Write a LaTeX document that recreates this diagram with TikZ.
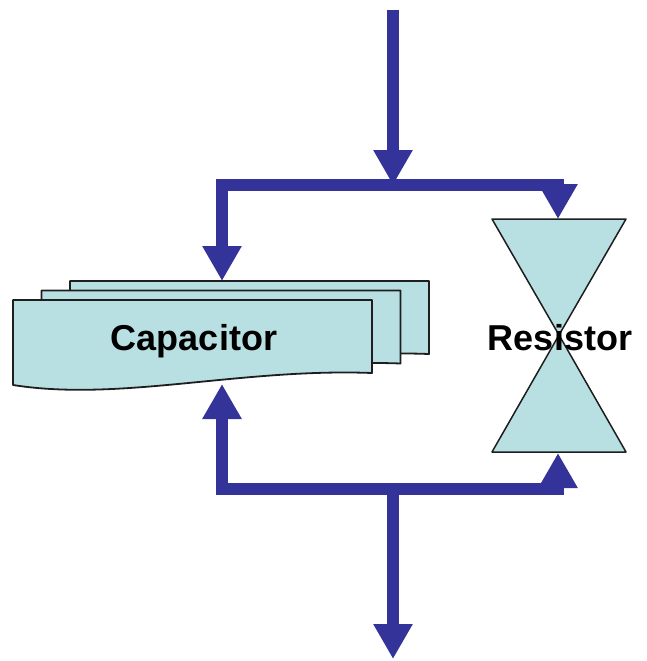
\documentclass[tikz,border=0pt]{standalone}
\usepackage{fontspec}
\setmainfont{Liberation Sans}
\usepackage{xcolor}
\usepackage{tikz}
\usetikzlibrary{arrows.meta, positioning, calc}

\definecolor{flussoblu}{RGB}{51,51,153}
\definecolor{cianochiaro}{RGB}{184,224,227}
\definecolor{bordo}{RGB}{30,30,30}

\tikzset{
    flusso/.style={draw=flussoblu, line width=12pt, line join=miter,
        -{Triangle[length=35pt, width=37pt]}},
    foglio/.style={fill=cianochiaro, draw=bordo, line width=1.8pt, line join=round},
    etichetta/.style={font=\bfseries\fontsize{36}{40}\selectfont, anchor=base, inner sep=0pt}
}

\begin{document}
\begin{tikzpicture}[x=1pt, y=-1pt]
    \useasboundingbox (0,0) rectangle (647,661);

    % Condensatore (tre fogli sovrapposti)
    \foreach \dx/\dy in {57/-19, 28.5/-9.5, 0/0} {
        \filldraw[foglio, shift={(\dx,\dy)}] (13,300) -- (372,300) -- (372,373)
            .. controls (240,368) and (120,402) .. (13,385) -- cycle;
    }
    \node[etichetta] (cap) at (194,350) {Capacitor};

    % Resistore (clessidra)
    \filldraw[foglio, line width=1.5pt] (492,219) -- (626,219) -- (559,335) -- cycle;
    \filldraw[foglio, line width=1.5pt] (559,335) -- (492,452) -- (626,452) -- cycle;
    \node[etichetta] (res) at (560,350) {Resistor};

    % Punti di snodo
    \coordinate (ingresso) at (393,10);
    \coordinate (split) at (393,185);
    \coordinate (join) at (393,489);
    \coordinate (uscita) at (393,659);
    \coordinate (captop) at (222,281);
    \coordinate (capbot) at (222,384);
    \coordinate (restop) at (558,219);
    \coordinate (resbot) at (558,453);

    % Flusso
    \draw[flusso] (ingresso) -- (split);
    \draw[flusso] (split) -| (captop);
    \draw[flusso] (split) -| (restop);
    \draw[flusso] (join) -| (capbot);
    \draw[flusso] (join) -| (resbot);
    \draw[flusso] (join) -- (uscita);

\end{tikzpicture}
\end{document}
